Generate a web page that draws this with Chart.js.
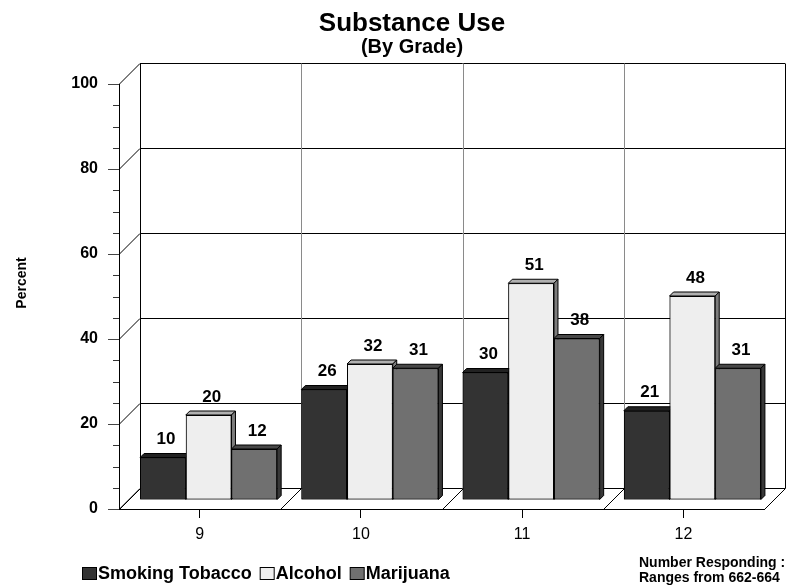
<!DOCTYPE html>
<html>
<head>
<meta charset="utf-8">
<script src="https://cdn.jsdelivr.net/npm/chart.js@4.4.1/dist/chart.umd.min.js"></script>
<style>
  html, body { margin: 0; padding: 0; background: #fff; }
  #wrap { width: 791px; height: 585px; }
</style>
</head>
<body>
<div id="wrap"><canvas id="c" width="791" height="585"></canvas></div>
<script>
// Survey results: percent of students reporting use, by grade
const grades = ['9', '10', '11', '12'];
const smokingTobacco = [10, 26, 30, 21];
const alcohol = [20, 32, 51, 48];
const marijuana = [12, 31, 38, 31];
const yTicks = [0, 20, 40, 60, 80, 100];
const seriesNames = ['Smoking Tobacco', 'Alcohol', 'Marijuana'];
const noteLines = ['Number Responding :', 'Ranges from 662-664'];

const FONT = "Arial, 'Liberation Sans', Helvetica, sans-serif";
const WALL = 21;   // depth of the floor and left wall
const ROW = 9;     // how far back from the front edge the bars stand
const BAR_D = 4;   // depth of each bar

function line(ctx, x1, y1, x2, y2) {
  ctx.beginPath(); ctx.moveTo(x1, y1); ctx.lineTo(x2, y2); ctx.stroke();
}
function poly(ctx, pts, fill) {
  ctx.beginPath();
  ctx.moveTo(pts[0][0], pts[0][1]);
  for (let i = 1; i < pts.length; i++) ctx.lineTo(pts[i][0], pts[i][1]);
  ctx.closePath();
  ctx.fillStyle = fill; ctx.fill();
  ctx.strokeStyle = '#000'; ctx.lineWidth = 1; ctx.stroke();
}

// Walls, floor, 3D bar faces, value labels, legend and side notes
const box3d = {
  id: 'box3d',
  beforeDraw(chart) {
    const { ctx, chartArea: a, scales: { y } } = chart;
    const n = chart.data.labels.length;
    const cw = (a.right - a.left) / n;
    const h = v => Math.round(y.getPixelForValue(v)) + 0.5;
    ctx.save();
    ctx.lineWidth = 1;
    ctx.strokeStyle = '#000';
    // back wall and left wall grid
    for (const v of yTicks) {
      const py = h(v);
      line(ctx, a.left + WALL, py - WALL, a.right + WALL, py - WALL);
      line(ctx, a.left, py, a.left + WALL, py - WALL);
    }
    const top = h(yTicks[yTicks.length - 1]) - WALL;
    const bot = h(0) - WALL;
    for (let k = 0; k <= n; k++) {
      const px = Math.round(a.left + k * cw) + 0.5;
      ctx.strokeStyle = (k === 0 || k === n) ? '#000' : '#8a8a8a';
      line(ctx, px + WALL, top, px + WALL, bot);
      // floor divisions
      ctx.strokeStyle = '#000';
      line(ctx, px, h(0), px + WALL, bot);
    }
    // minor ticks on the value axis
    ctx.strokeStyle = '#333';
    for (let v = 5; v < 100; v += 5) {
      if (v % 20 === 0) continue;
      const py = h(v);
      line(ctx, a.left - 6, py, a.left, py);
    }
    ctx.restore();
  },
  beforeDatasetsDraw(chart) {
    chart.ctx.save();
    chart.ctx.translate(ROW, -ROW);
  },
  afterDatasetsDraw(chart) {
    const ctx = chart.ctx;
    const n = chart.data.labels.length;
    const sets = chart.data.datasets;
    // redraw each group left to right so neighbours hide the side faces
    for (let j = 0; j < n; j++) {
      sets.forEach((ds, i) => {
        const bar = chart.getDatasetMeta(i).data[j];
        const { x, y, base, width } = bar.getProps(['x', 'y', 'base', 'width'], true);
        const l = x - width / 2, r = x + width / 2;
        poly(ctx, [[l, y], [r, y], [r + BAR_D, y - BAR_D], [l + BAR_D, y - BAR_D]], ds.topColor);
        poly(ctx, [[r, y], [r + BAR_D, y - BAR_D], [r + BAR_D, base - BAR_D], [r, base]], ds.sideColor);
        bar.draw(ctx);
      });
    }
    // value labels
    ctx.fillStyle = '#000';
    ctx.font = 'bold 17px ' + FONT;
    ctx.textAlign = 'center';
    ctx.textBaseline = 'middle';
    sets.forEach((ds, i) => {
      chart.getDatasetMeta(i).data.forEach((bar, j) => {
        ctx.fillText(String(ds.data[j]), bar.x + 3, bar.y - 18);
      });
    });
    ctx.restore();
  },
  afterDraw(chart) {
    const ctx = chart.ctx;
    ctx.save();
    ctx.fillStyle = '#000';
    // axis title
    ctx.save();
    ctx.translate(22, 283);
    ctx.rotate(-Math.PI / 2);
    ctx.font = 'bold 14px ' + FONT;
    ctx.textAlign = 'center';
    ctx.textBaseline = 'middle';
    ctx.fillText('Percent', 0, 0);
    ctx.restore();
    // legend
    ctx.font = 'bold 18px ' + FONT;
    ctx.textAlign = 'left';
    ctx.textBaseline = 'middle';
    let lx = 82;
    const ly = 574;
    chart.data.datasets.forEach(ds => {
      ctx.fillStyle = ds.backgroundColor;
      ctx.fillRect(lx + 0.5, ly - 6.5, 14, 12);
      ctx.strokeStyle = '#000';
      ctx.lineWidth = 1;
      ctx.strokeRect(lx + 0.5, ly - 6.5, 14, 12);
      ctx.fillStyle = '#000';
      ctx.fillText(ds.label, lx + 16, ly);
      lx += 16 + ctx.measureText(ds.label).width + 8;
    });
    // respondent note
    ctx.font = 'bold 14px ' + FONT;
    noteLines.forEach((t, k) => ctx.fillText(t, 639, 563 + k * 15));
    ctx.restore();
  }
};

new Chart(document.getElementById('c'), {
  type: 'bar',
  data: {
    labels: grades,
    datasets: [
      { label: seriesNames[0], data: smokingTobacco, backgroundColor: '#333333',
        topColor: '#222222', sideColor: '#1c1c1c' },
      { label: seriesNames[1], data: alcohol, backgroundColor: '#eeeeee',
        topColor: '#b0b0b0', sideColor: '#7c7c7c' },
      { label: seriesNames[2], data: marijuana, backgroundColor: '#707070',
        topColor: '#484848', sideColor: '#383838' }
    ].map(d => Object.assign(d, {
      borderColor: '#000', borderWidth: 1, borderSkipped: false,
      barPercentage: 1.0, categoryPercentage: 0.85, clip: false
    }))
  },
  options: {
    responsive: false,
    animation: false,
    devicePixelRatio: 1,
    layout: { padding: { left: 60, right: 27, top: 0, bottom: 36 } },
    plugins: {
      legend: { display: false },
      tooltip: { enabled: false },
      title: {
        display: true, text: 'Substance Use', color: '#000',
        font: { family: FONT, size: 26, weight: 'bold', lineHeight: 1.0 },
        padding: { top: 11, bottom: 0 }
      },
      subtitle: {
        display: true, text: '(By Grade)', color: '#000',
        font: { family: FONT, size: 20, weight: 'bold', lineHeight: 1.0 },
        padding: { top: 0, bottom: 27 }
      }
    },
    scales: {
      x: {
        grid: { display: true, drawOnChartArea: false, offset: false, tickLength: 9, color: '#000' },
        border: { display: true, color: '#000' },
        ticks: { color: '#000', font: { family: FONT, size: 16 }, padding: 7 },
        afterFit(s) { s.height = 40; }
      },
      y: {
        min: 0, max: 100,
        afterBuildTicks(s) { s.ticks = yTicks.map(v => ({ value: v })); },
        grid: { drawOnChartArea: false, tickLength: 11, color: '#444' },
        border: { display: true, color: '#000' },
        ticks: { color: '#000', font: { family: FONT, size: 16, weight: 'bold' }, padding: 10 },
        afterFit(s) { s.width = 59; }
      }
    }
  },
  plugins: [box3d]
});
</script>
</body>
</html>
